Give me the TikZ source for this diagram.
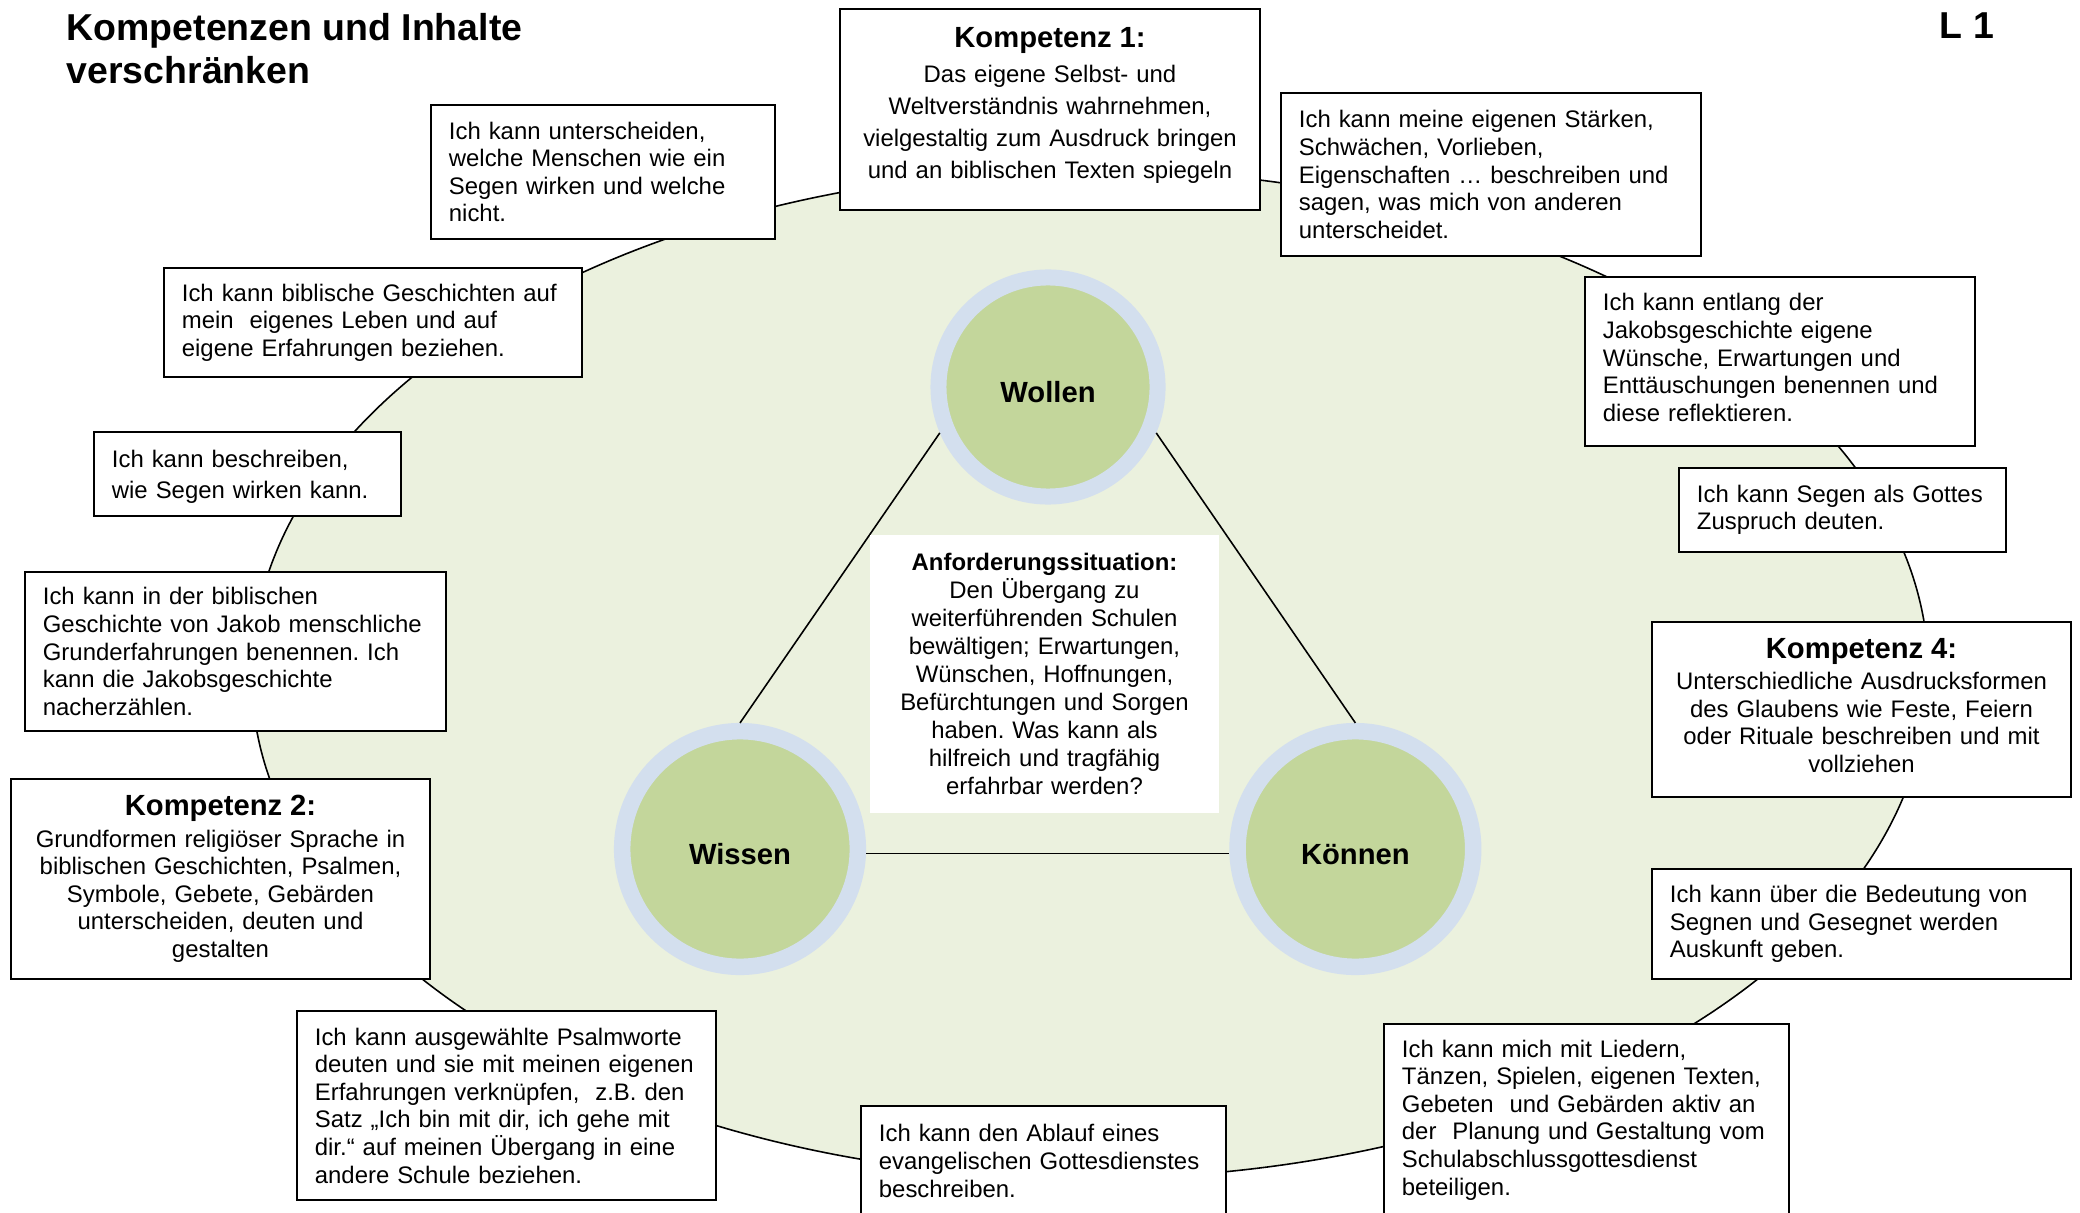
\documentclass[tikz,border=0pt]{standalone}
\usepackage{fontspec}
\setmainfont{Liberation Sans}
\usetikzlibrary{positioning}
\frenchspacing

\definecolor{feldgruen}{HTML}{EBF1DE}
\definecolor{kreisgruen}{HTML}{C3D69B}
\definecolor{ringblau}{HTML}{D3DFEE}

\newcommand{\kbody}{\fontsize{6.8}{7.85}\selectfont}
\newcommand{\kweit}{\fontsize{6.8}{9.07}\selectfont}
\newcommand{\khead}{\fontsize{8.3}{9.5}\selectfont\bfseries}
\newcommand{\ktief}[1]{\rule[-#1]{0pt}{0pt}}

\begin{document}
\begin{tikzpicture}[
    x=0.01cm, y=-0.01cm,
    kannbox/.style={rectangle, draw, fill=white, line width=0.55pt, inner xsep=0.18cm, inner ysep=0pt, align=left, font=\kbody},
    kompbox/.style={kannbox, align=center},
    ziel/.style={circle, draw=ringblau, fill=kreisgruen, line width=0.165cm, inner sep=0pt, minimum size=#1, text height=0.31cm, text depth=0cm, font=\khead},
    verb/.style={line width=0.45pt},
]
\useasboundingbox (0,0) rectangle (2080,1213);

% Feld
\draw[fill=feldgruen, line width=0.45pt] (1090,674) ellipse [x radius=8.38cm, y radius=5.04cm];

% Kreise
\node[ziel=2.19cm, line width=0.16cm] (wollen) at (1048,387) {Wollen};
\node[ziel=2.355cm] (wissen) at (740,849) {Wissen};
\node[ziel=2.355cm, right=3.63cm of wissen] (koennen) {Können};

% Verbindungen
\draw[verb] (wollen.203) -- (wissen.north);
\draw[verb] (wollen.337) -- (koennen.north);
\draw[verb] (wissen.-2) -- (koennen.182);

% Situation
\node[fill=white, inner sep=0pt, minimum width=3.49cm, minimum height=2.78cm, text width=3.09cm, align=center, font=\fontsize{6.8}{7.95}\selectfont] (situation) at (1044.5,674) {\textbf{Anforderungssituation:}\\Den Übergang zu\\weiterführenden Schulen\\bewältigen; Erwartungen,\\Wünschen, Hoffnungen,\\Befürchtungen und Sorgen\\haben. Was kann als\\hilfreich und tragfähig\\erfahrbar werden?};

% Titel
\node[anchor=north west, inner sep=0pt, align=left, font=\fontsize{10.65}{12.2}\selectfont\bfseries] (titel) at (66,13) {Kompetenzen und Inhalte\\verschränken};
\node[inner sep=0pt, font=\fontsize{10.65}{12.2}\selectfont\bfseries] (blatt) at (1967,26) {L 1};

% Kompetenzen
\node[kompbox, font=\kweit, text width=3.84cm, minimum height=2.01cm] (komp1) at (1050,109.5) {{\khead Kompetenz 1:}\\[1pt]Das eigene Selbst- und\\Weltverständnis wahrnehmen,\\vielgestaltig zum Ausdruck bringen\\und an biblischen Texten spiegeln\ktief{0.13cm}};
\node[kompbox, text width=3.83cm, minimum height=2.0cm] (komp2) at (220.5,879) {{\khead Kompetenz 2:}\\[1pt]Grundformen religiöser Sprache in\\biblischen Geschichten, Psalmen,\\Symbole, Gebete, Gebärden\\unterscheiden, deuten und\\gestalten};
\node[kompbox, text width=3.83cm, minimum height=1.75cm] (komp4) at (1861.5,709.5) {{\khead Kompetenz 4:}\\[1pt]Unterschiedliche Ausdrucksformen\\des Glaubens wie Feste, Feiern\\oder Rituale beschreiben und mit\\vollziehen\ktief{0.08cm}};

% Ich-kann-Saetze
\node[kannbox, text width=3.08cm, minimum height=1.34cm] (unterscheiden) at (603,172) {Ich kann unterscheiden,\\welche Menschen wie ein\\Segen wirken und welche\\nicht.};
\node[kannbox, text width=3.82cm, minimum height=1.09cm] (geschichten) at (373,322.5) {Ich kann biblische Geschichten auf\\mein \ eigenes Leben und auf\\eigene Erfahrungen beziehen.};
\node[kannbox, font=\kweit, text width=2.71cm, minimum height=0.84cm] (beschreiben) at (247.5,474) {\rule{0pt}{0.23cm}Ich kann beschreiben,\\wie Segen wirken kann.};
\node[kannbox, text width=3.85cm, minimum height=1.59cm] (jakob) at (235.5,651.5) {Ich kann in der biblischen\\Geschichte von Jakob menschliche\\Grunderfahrungen benennen. Ich\\kann die Jakobsgeschichte\\nacherzählen.};
\node[kannbox, text width=3.83cm, minimum height=1.89cm] (psalm) at (506.5,1105.5) {Ich kann ausgewählte Psalmworte\\deuten und sie mit meinen eigenen\\Erfahrungen verknüpfen, \ z.B. den\\Satz „Ich bin mit dir, ich gehe mit\\dir.“ auf meinen Übergang in eine\\andere Schule beziehen.};
\node[kannbox, text width=3.29cm, minimum height=1.10cm] (ablauf) at (1043.5,1161) {Ich kann den Ablauf eines\\evangelischen Gottesdienstes\\beschreiben.};
\node[kannbox, text width=3.69cm, minimum height=1.92cm] (lieder) at (1586.5,1120) {Ich kann mich mit Liedern,\\Tänzen, Spielen, eigenen Texten,\\Gebeten \ und Gebärden aktiv an\\der \ Planung und Gestaltung vom\\Schulabschlussgottesdienst\\beteiligen.};
\node[kannbox, text width=3.83cm, minimum height=1.10cm] (bedeutung) at (1861.5,924) {Ich kann über die Bedeutung von\\Segnen und Gesegnet werden\\Auskunft geben.};
\node[kannbox, text width=2.91cm, minimum height=0.84cm] (zuspruch) at (1842.5,510) {Ich kann Segen als Gottes\\Zuspruch deuten.};
\node[kannbox, text width=3.54cm, minimum height=1.69cm] (entlang) at (1780,361.5) {Ich kann entlang der\\Jakobsgeschichte eigene\\Wünsche, Erwartungen und\\Enttäuschungen benennen und\\diese reflektieren.\ktief{0.08cm}};
\node[kannbox, text width=3.84cm, minimum height=1.63cm] (staerken) at (1491,174.5) {Ich kann meine eigenen Stärken,\\Schwächen, Vorlieben,\\Eigenschaften … beschreiben und\\sagen, was mich von anderen\\unterscheidet.};

\end{tikzpicture}
\end{document}
